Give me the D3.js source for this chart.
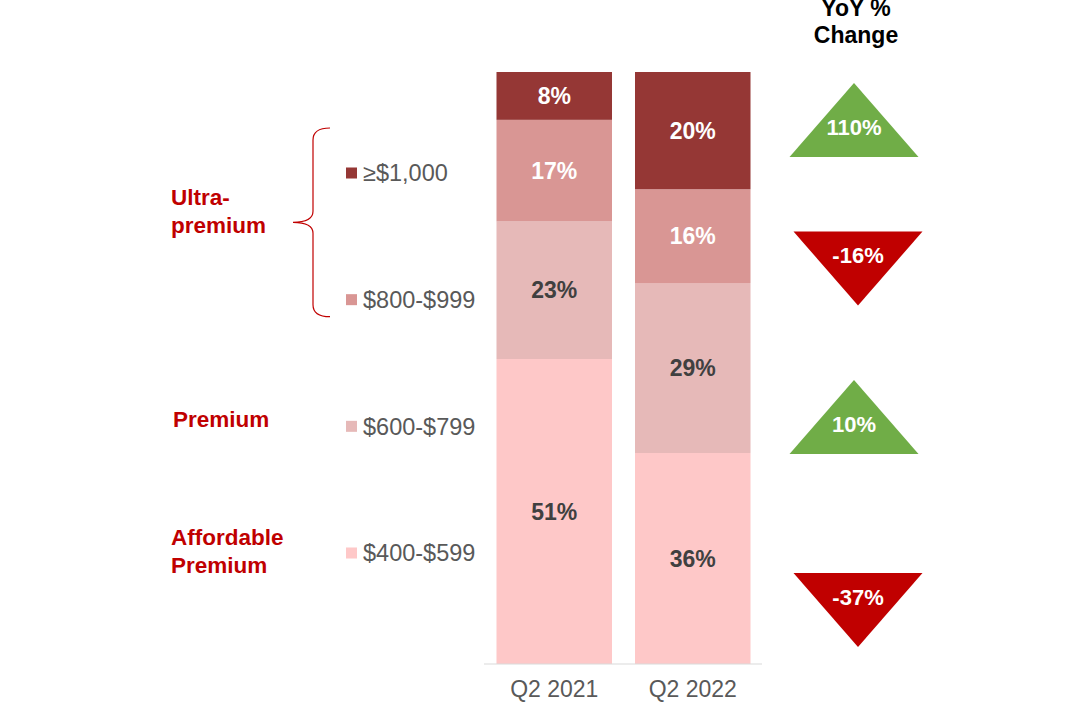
<!DOCTYPE html>
<html>
<head>
<meta charset="utf-8">
<script src="https://cdn.jsdelivr.net/npm/d3@7"></script>
<style>
  body { margin: 0; background: #fff; }
  svg { display: block; font-family: "Liberation Sans", Arial, sans-serif; }
</style>
</head>
<body>
<div id="chart"></div>
<script>
// data
const quarters = ["Q2 2021", "Q2 2022"];
const priceBands = ["$400-$599", "$600-$799", "$800-$999", "≥$1,000"];   // bottom -> top
const share2021 = [51, 23, 17, 8];
const share2022 = [36, 29, 16, 20];
const yoyChange = [110, -16, 10, -37];   // top -> bottom
const tiers = [
    {name: ["Ultra-", "premium"], bands: ["≥$1,000", "$800-$999"]},
    {name: ["Premium"], bands: ["$600-$799"]},
    {name: ["Affordable", "Premium"], bands: ["$400-$599"]}
];

const width = 1080, height = 704;
const bandColors = ["#fec8c8", "#e6b9b8", "#d99694", "#953735"];
const labelColors = ["#404040", "#404040", "#ffffff", "#ffffff"];

const svg = d3.select("#chart").append("svg")
    .attr("width", width)
    .attr("height", height);

// build rows for stacking
let rows = quarters.map(function (q, i) {
    let vals = i === 0 ? share2021 : share2022;
    let row = {quarter: q};
    priceBands.forEach(function (b, j) { row[b] = vals[j]; });
    return row;
});

let stack = d3.stack().keys(priceBands).offset(d3.stackOffsetExpand);
let series = stack(rows);

let x = d3.scaleBand()
    .domain(quarters)
    .range([485, 762])
    .paddingInner(0.166)
    .paddingOuter(0.083);

let y = d3.scaleLinear()
    .domain([0, 1])
    .range([664, 72]);

// bars
let layer = svg.selectAll(".layer")
    .data(series)
    .enter().append("g")
    .attr("class", "layer")
    .attr("fill", (d, i) => bandColors[i]);

layer.selectAll("rect")
    .data(d => d)
    .enter().append("rect")
    .attr("x", d => x(d.data.quarter))
    .attr("y", d => y(d[1]))
    .attr("width", x.bandwidth())
    .attr("height", d => y(d[0]) - y(d[1]));

// segment labels
series.forEach(function (s, i) {
    svg.selectAll(".seg" + i)
        .data(s)
        .enter().append("text")
        .attr("class", "seg" + i)
        .attr("x", d => x(d.data.quarter) + x.bandwidth() / 2)
        .attr("y", d => y((d[0] + d[1]) / 2))
        .attr("dy", "0.35em")
        .attr("text-anchor", "middle")
        .attr("font-size", 23)
        .attr("font-weight", "bold")
        .attr("fill", labelColors[i])
        .text(d => d.data[s.key] + "%");
});

// baseline + x axis
svg.append("line")
    .attr("x1", 484).attr("x2", 762)
    .attr("y1", y(0)).attr("y2", y(0))
    .attr("stroke", "#d9d9d9")
    .attr("stroke-width", 1.2);

let xAxis = svg.append("g")
    .attr("transform", `translate(0, ${y(0)})`)
    .call(d3.axisBottom(x).tickSize(0).tickPadding(17));
xAxis.select(".domain").remove();
xAxis.selectAll("text")
    .attr("font-family", "Liberation Sans, Arial, sans-serif")
    .attr("font-size", 23)
    .attr("fill", "#595959");

// legend
let legendY = d3.scalePoint()
    .domain(priceBands.slice().reverse())
    .range([173, 553]);

let legend = svg.selectAll(".legend")
    .data(priceBands)
    .enter().append("g")
    .attr("class", "legend")
    .attr("transform", d => `translate(346, ${legendY(d)})`);

legend.append("rect")
    .attr("x", 0).attr("y", -5.5)
    .attr("width", 11).attr("height", 11)
    .attr("fill", (d, i) => bandColors[i]);

legend.append("text")
    .attr("x", 17)
    .attr("dy", "0.35em")
    .attr("font-size", 23.5)
    .attr("fill", "#595959")
    .text(d => d);

// tier labels (red)
tiers.forEach(function (t) {
    let ys = t.bands.map(b => legendY(b));
    let mid = d3.mean(ys);
    let shift = t.name.length === 2 && t.bands.length === 2 ? -25 : (t.bands.length === 1 && t.name.length === 1 ? -7 : -1.5);
    let txt = svg.append("text")
        .attr("x", t.name[0] === "Premium" ? 173 : 171)
        .attr("font-size", 22.5)
        .attr("font-weight", "bold")
        .attr("fill", "#c00000");
    t.name.forEach(function (line, k) {
        txt.append("tspan")
            .attr("x", t.name[0] === "Premium" ? 173 : 171)
            .attr("y", mid + shift + (k - (t.name.length - 1) / 2) * 28)
            .attr("dy", "0.35em")
            .text(line);
    });
});

// brace around ultra-premium bands
let bTop = legendY("≥$1,000") - 45, bBot = legendY("$800-$999") + 17;
let bMid = (bTop + bBot) / 2;
svg.append("path")
    .attr("d", `M330,${bTop} Q313,${bTop} 313,${bTop + 12} L313,${bMid - 11} Q313,${bMid} 293,${bMid}
                Q313,${bMid} 313,${bMid + 11} L313,${bBot - 12} Q313,${bBot} 330,${bBot}`)
    .attr("fill", "none")
    .attr("stroke", "#c00000")
    .attr("stroke-width", 1.2);

// YoY column
let header = svg.append("text")
    .attr("text-anchor", "middle")
    .attr("font-size", 23)
    .attr("font-weight", "bold")
    .attr("fill", "#000");
header.append("tspan").attr("x", 856).attr("y", 16).text("YoY %");
header.append("tspan").attr("x", 856).attr("y", 43).text("Change");

let rowY = d3.scaleLinear()
    .domain([0, 2, 3])
    .range([120, 417, 610]);

let tri = svg.selectAll(".yoy")
    .data(yoyChange)
    .enter().append("g")
    .attr("class", "yoy")
    .attr("transform", (d, i) => `translate(${d >= 0 ? 854 : 858}, ${rowY(i)})`);

tri.append("path")
    .attr("d", d => d >= 0
        ? "M0,-37 L64.5,37 L-64.5,37 Z"
        : "M-64.5,-37 L64.5,-37 L0,37 Z")
    .attr("fill", d => d >= 0 ? "#70ad47" : "#c00000");

tri.append("text")
    .attr("text-anchor", "middle")
    .attr("y", d => d >= 0 ? 7 : -13)
    .attr("dy", "0.35em")
    .attr("font-size", 22)
    .attr("font-weight", "bold")
    .attr("fill", "#fff")
    .text(d => d + "%");
</script>
</body>
</html>
